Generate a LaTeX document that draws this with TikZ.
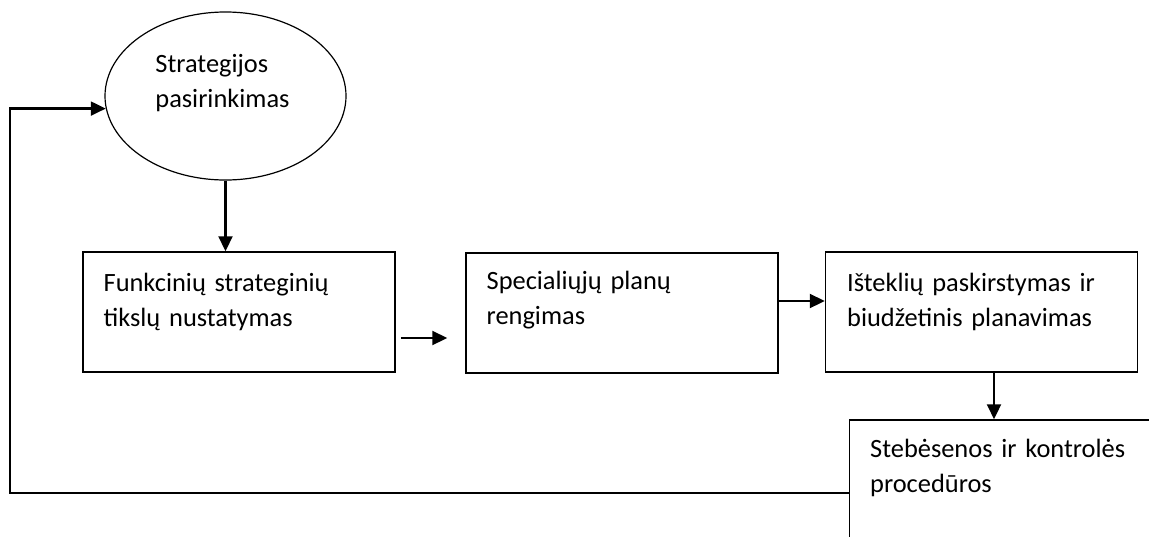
\documentclass[tikz,border=0pt]{standalone}
\usepackage{fontspec}
\setmainfont{Carlito}
\usetikzlibrary{arrows.meta}
\usetikzlibrary{shapes.geometric}

\begin{document}
\begin{tikzpicture}[x=.5pt,y=-.5pt]
   \tikzstyle{box} = [draw,line width=.75pt,rectangle,inner sep=0pt,
     minimum width=156pt,minimum height=60pt]
   \tikzstyle{txt} = [anchor=base west,inner sep=0pt,align=left,
     text width=150pt,font=\fontsize{13.2}{17.5}\selectfont]
   \tikzstyle{Arr} = [draw,line width=1.1pt,
     -{Triangle[length=7.5pt,width=7pt]}]
    \useasboundingbox (0,0) rectangle (1149,536);
    \clip (0,0) rectangle (1149,536);
    %%
    \node [draw,ellipse,line width=.6pt,inner sep=0pt,minimum width=120.5pt,
      minimum height=84pt] (strat) at (225.5,96) {};
    \node [txt] at ([shift={(-70.5,-24)}]strat.center)
      {Strategijos\\pasirinkimas};
    %%
    \node [box] (funk) at (239,312) {};
    \node [txt] at ([shift={(21,40)}]funk.north west)
      {Funkcinių strateginių\\tikslų nustatymas};
    \node [box] (spec) at (622,313) {};
    \node [txt] at ([shift={(21,37)}]spec.north west)
      {Specialiųjų planų\\rengimas};
    \node [box] (istek) at (981.5,312) {};
    \node [txt] at ([shift={(22,40)}]istek.north west)
      {Išteklių paskirstymas ir\\biudžetinis planavimas};
    \node [box,minimum height=73pt] (stebe) at (1005.5,493) {};
    \node [txt] at ([shift={(21,38)}]stebe.north west)
      {Stebėsenos ir kontrolės\\procedūros};
    %%
    \coordinate (a) at ([shift={(0,-12)}]spec.east);
    \coordinate (b) at ([shift={(12.5,0)}]istek.south);
    \coordinate (ret) at (10,300);
    \path [Arr] (strat.south) -- (strat.south |- funk.north);
    \path [Arr] ([shift={(5,26)}]funk.east) -- ([shift={(-18,25)}]spec.west);
    \path [Arr] (a) -- (a -| istek.west);
    \path [Arr] (b) -- (b |- stebe.north);
    \path [Arr] (stebe.west) -- (stebe.west -| ret) |- (strat.186);
  \end{tikzpicture}
\end{document}
